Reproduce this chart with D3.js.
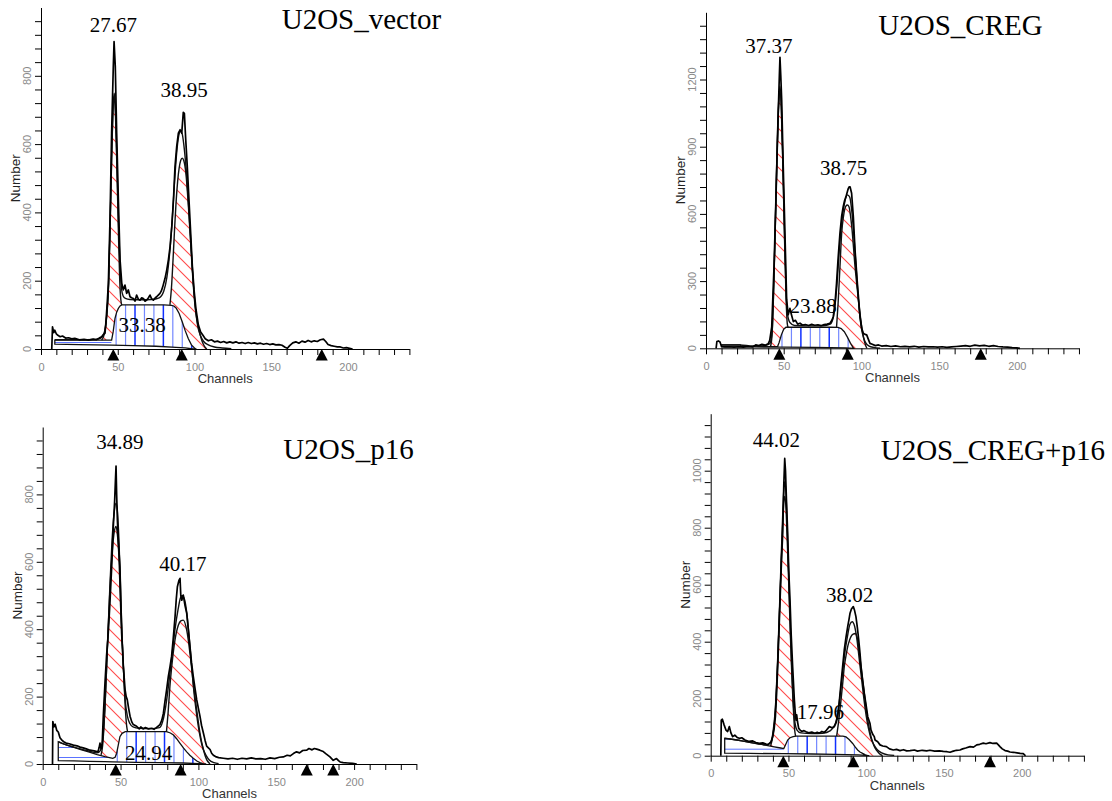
<!DOCTYPE html>
<html><head><meta charset="utf-8">
<script src="https://cdn.jsdelivr.net/npm/d3@7"></script>
<style>
html,body{margin:0;padding:0;background:#fff;}
svg{display:block;}
</style></head><body>
<svg id="chart" width="1112" height="801"></svg>
<script>
// ---------- U2OS_vector ----------
const vectorRaw = [[7,0],[7.5,65],[8.3,48],[9,55],[10,44],[11,40],[12.5,36],[14,38],[16,32],[18,33],[20,30],[22,31],[25,27],[28,28],[31,26],[34,29],[36,27],[38,32],[39.5,36],[40.5,42],[41.7,46],[42.4,85],[43.2,140],[43.9,193],[45,388],[46,632],[47.1,827],[47.6,900],[48.4,827],[49.3,632],[50.4,437],[51.5,261],[52.6,193],[53.6,173],[54.7,187],[55.8,163],[56.9,173],[58,153],[59,150],[60.2,148],[61.2,140],[62.3,158],[63.4,146],[64.5,143],[65.6,150],[66.7,148],[67.8,140],[68.8,143],[70,150],[71,158],[72.1,147],[73.2,143],[74.3,149],[75.3,153],[76.4,158],[77.5,163],[78.4,170],[79.3,182],[80.8,207],[81.9,231],[83,261],[84.1,300],[85.2,359],[86.3,437],[87.3,534],[88.4,593],[89.5,632],[90.6,642],[91.7,632],[92.7,693],[93.4,690],[94.3,612],[95.3,534],[96.4,437],[97.5,340],[98.6,242],[99.7,173],[101,115],[102.5,71],[104,50],[105.5,40],[107,30],[109,24],[111,27],[113,21],[115,23],[117,19],[119,22],[121,18],[123,21],[125,18],[127,21],[129,17],[131,19],[133,16],[135,19],[137,16],[139,18],[141,15],[143,17],[145,14],[147,16],[149,13],[151,15],[153,12],[155,13],[157,11],[159,5],[160.5,2],[162,10],[164,18],[166,21],[168,17],[170,23],[172,20],[174,25],[176,21],[178,24],[180,22],[182,27],[184,29],[185.5,22],[187,13],[189,10],[191,8],[193,6],[195,6],[197,3],[199,4],[201,2],[203,0]];
const vectorFit = [[9,27],[15,27],[25,27],[35,28],[39,32],[41,45],[42.5,85],[44,190],[45,360],[46,560],[47,710],[47.7,749],[48.5,700],[49.5,540],[50.5,370],[51.5,240],[52.5,175],[53.5,155],[55,148],[58,145],[65,144],[72,145],[77,150],[80,170],[82,210],[84,290],[85.5,380],[87,490],[88.5,580],[90,630],[91,638],[92,630],[93,600],[94.5,530],[96,430],[97.5,320],[99,210],[100.5,125],[102,70],[104,38],[106,22],[109,12],[113,6],[118,3],[124,1]];
const vectorG1 = [[39.5,26],[41,40],[42.5,80],[44,185],[45,350],[46,550],[47,705],[47.7,740],[48.5,690],[49.5,520],[50.5,330],[51.3,200],[52,145],[52.6,129]];
const vectorG2 = [[84,129],[85,180],[86,260],[87,350],[88,430],[89,490],[90,530],[91,552],[92,559],[93,552],[94.5,510],[96,420],[97.5,310],[99,200],[100.5,120],[102,75],[103.5,45],[105,22],[106.5,8],[108,0]];
const vectorBg = [[9,26],[30,26],[46,26],[47,50],[48.2,90],[49.3,108],[50.4,119],[51.5,126],[52.6,129],[60,129],[70,129],[80,129],[85,128],[86.5,126],[88,120],[90,104],[92,80],[94,53],[96,30],[98,12],[100,3],[101,0]];
const vectorLow = [[9,14],[25,13],[46,11.5],[60,10],[75,8],[88,5],[94,3],[99,0]];
const vectorMarks = [47.1, 91.7, 182.9];
const vectorPct = ["27.67", "33.38", "38.95"];   // G1, S, G2

// ---------- U2OS_CREG ----------
const cregRaw = [[6.5,0],[7,30],[8,33],[9,28],[10,8],[12,6],[15,7],[18,5],[21,7],[24,5],[27,8],[30,6],[32,15],[34,12],[36,18],[38,14],[40,20],[41,35],[42.3,96],[43.8,368],[45,666],[46.1,963],[47.2,1216],[47.6,1299],[48.1,1220],[48.7,1109],[49.7,811],[50.8,513],[51.9,216],[52.9,150],[54,178],[55,150],[56.2,119],[57.5,125],[59,108],[60.5,112],[62,104],[64,106],[66,102],[68,107],[70,103],[72,105],[74,101],[76,106],[78,108],[79.8,112],[81,125],[81.9,141],[83,200],[84,290],[85,400],[86.2,513],[87.3,590],[88.3,632],[89.2,660],[90.1,677],[91,700],[91.6,714],[92.2,721],[92.7,721],[93.7,692],[94.8,588],[95.9,439],[97.4,290],[99.1,141],[100.2,90],[101.2,67],[102.3,62],[103.4,60],[104.5,40],[105.5,22],[107,18],[109,12],[111,15],[113,10],[116,12],[119,8],[122,11],[125,7],[128,9],[131,6],[134,9],[137,5],[140,8],[143,6],[146,7],[149,5],[152,7],[155,4],[158,6],[161,8],[164,10],[167,12],[170,9],[173,14],[176,11],[179,13],[182,9],[185,12],[188,8],[191,6],[194,5],[197,3],[200,2],[202,0]];
const cregFit = [[10,15],[22,15],[30,10],[38,12],[41,20],[42.5,70],[43.5,260],[44.5,530],[45.5,820],[46.5,1060],[47.5,1170],[48.5,1080],[49.5,820],[50.5,520],[51.5,260],[52.5,150],[54,115],[57,102],[65,100],[75,101],[80,108],[82,140],[84,260],[86,460],[88,600],[89.5,660],[91,685],[92.5,675],[94,600],[95.5,470],[97,320],[98.5,180],[100,90],[101.5,45],[103,22],[105,10],[108,4],[112,1]];
const cregG1 = [[41.5,7],[42.5,60],[43.5,250],[44.5,520],[45.5,800],[46.5,1040],[47.5,1150],[48.5,1060],[49.5,800],[50.5,500],[51.5,230],[52.3,110],[52.8,94]];
const cregG2 = [[84,94],[85,200],[86.2,364],[87.3,513],[88.5,590],[90,635],[91,640],[92,632],[93.8,543],[95.9,364],[98.1,216],[100.2,97],[102.3,22],[103.5,0]];
const cregBg = [[10,15],[22,15],[23,7],[46,7],[47,25],[48.5,60],[50,85],[51.5,94],[60,94],[70,94],[80,94],[85,93],[87,88],[89,74],[91,50],[93,22],[94.5,5],[95,0]];
const cregLow = [[10,7],[30,6],[46,5],[50,5],[70,4],[90,2],[95,0]];
const cregMarks = [47.2, 91.2, 176.8];
const cregPct = ["37.37", "23.88", "38.75"];

// ---------- U2OS_p16 ----------
const p16Raw = [[6.3,0],[6.5,126],[7.2,110],[8,118],[9,100],[10,95],[11.1,78],[12.5,70],[13.5,66],[15,62],[17,60],[19.7,56],[22,54],[24,50],[26,48],[28,45],[30.4,41],[33,39],[35.5,36],[36.2,48],[36.8,62],[37.5,45],[38.2,60],[38.9,140],[40,240],[41,320],[42.1,388],[43.2,480],[44.3,585],[45.3,700],[46.2,780],[46.7,840],[47.1,884],[47.5,800],[48,720],[48.6,660],[49.6,585],[50.7,388],[51.8,290],[52.9,221],[53.6,200],[54.3,191],[55.2,165],[56.1,142],[57.2,125],[58.2,117],[60.3,112],[62,104],[63,110],[64.5,104],[66,108],[68,104],[70,106],[71.5,103],[73,108],[75.3,117],[76.5,130],[77.5,150],[78.5,185],[79.6,221],[80.7,260],[81.8,290],[82.8,320],[83.8,370],[85,437],[85.8,490],[86.5,526],[87.5,545],[88.2,551],[88.7,500],[89.3,486],[90.3,501],[91.4,470],[92.5,447],[93.5,400],[94.6,348],[95.6,300],[96.7,260],[97.8,225],[98.9,191],[100,165],[101,142],[102,115],[103.2,92],[104.3,70],[105.3,53],[106.4,48],[107.5,43],[108.5,32],[109.6,26],[111,22],[113,19],[116,17],[119,15],[122,17],[125,14],[128,17],[131,15],[134,18],[137,15],[140,16],[143,14],[146,18],[149,16],[152,20],[154.5,21],[157,26],[159,24],[161,31],[163,36],[165,33],[167,40],[169.6,41],[171,46],[173,42],[174.5,46],[176,44],[178,41],[180.2,37],[182,30],[184.5,21],[186.6,11],[188.7,16],[190,10],[191,6],[193,4],[196,3],[199,2],[201.7,0]];
const p16Fit = [[10,66],[12,62],[20,50],[30,38],[35,33],[37,40],[38.5,70],[40,170],[41.5,340],[43,510],[44.5,660],[46,750],[47.1,774],[48,750],[49,660],[50,520],[51,380],[52,270],[53,190],[54.5,140],[56,120],[58,110],[62,106],[70,105],[75,108],[77,125],[79,170],[81,240],[83,320],[85,400],[87,460],[88.5,493],[89.5,500],[91,490],[92.5,450],[94,380],[95.5,300],[97,220],[98.5,160],[100,110],[101.5,72],[103,45],[105,25],[107,12],[110,4],[113,1]];
const p16G1 = [[37.5,27],[38.5,55],[40,170],[41.5,340],[43,500],[44.5,620],[46,690],[47.1,705],[48,680],[49,610],[50,470],[51,370],[52,270],[53,170],[54,110],[54.5,96]];
const p16G2 = [[79.5,96],[80.5,150],[81.7,230],[82.9,290],[85,369],[87.1,412],[88.7,425],[90.3,427],[92.5,397],[94.6,328],[96.7,240],[98.9,161],[101,92],[103.2,43],[105.3,13],[107.5,0]];
const p16Bg = [[10,66],[15,57],[20,49],[25,42],[30,35],[35,28],[40,22],[45,17],[46.5,20],[47.5,32],[48.5,55],[49.6,81],[51,91],[53,96],[60,96],[70,96],[79.5,96],[82,92],[84,86],[86,75],[88.2,61],[90.5,47],[92.5,36],[94.5,26],[96.7,17],[99,9],[101,4],[103,1],[105,0]];
const p16Low = [[10,10],[20,9],[30,8],[40,7],[45,6.5],[60,5],[75,4],[90,3],[100,1],[105,0]];
const p16Marks = [46.9, 88.6, 169.6, 186.6];
const p16Pct = ["34.89", "24.94", "40.17"];

// ---------- U2OS_CREG+p16 ----------
const cpRaw = [[6.5,0],[6.8,125],[7.5,128],[8.5,110],[9.8,90],[10.9,85],[12,102],[13,80],[14.1,67],[15.5,72],[17,64],[18.4,61],[20,63],[22,55],[24.8,50],[27,52],[29,46],[31.3,43],[33.5,45],[35.6,41],[37,40],[37.7,43],[38.8,49],[39.9,67],[40.8,95],[41.6,137],[42.4,220],[43.1,312],[43.8,420],[44.6,546],[45.5,680],[46.3,780],[47,950],[47.6,1043],[48.1,1000],[48.7,900],[49.5,780],[50.2,650],[51,546],[51.8,420],[52.7,312],[53.8,195],[54.4,150],[54.9,125],[55.3,143],[55.8,120],[56.6,96],[57.5,90],[58.5,85],[60,88],[61.3,84],[63,80],[65,83],[67,79],[68.5,82],[69.8,79],[71.5,85],[73,82],[74.5,90],[76.3,102],[78,98],[79.5,102],[80.6,115],[81.7,137],[82.7,190],[83.8,254],[84.8,310],[85.9,371],[87,415],[88.1,453],[89,480],[89.6,500],[90.5,515],[91.7,523],[92.5,510],[93.4,488],[94.3,450],[95.2,406],[96,360],[96.7,312],[97.7,265],[98.8,218],[100,175],[101,137],[102.4,114],[103.1,90],[104.2,75],[105.2,67],[105.7,55],[107.4,49],[108.9,38],[110.6,34],[113,32],[115,24],[117.4,20],[119.5,22],[121.7,18],[124,21],[126,17],[128.2,18],[131,20],[133,16],[136,19],[138.9,17],[141,19],[144,16],[147,17],[149.6,15],[152,14],[153.9,12],[156,16],[158,19],[160.3,20],[162,24],[164,27],[166.8,32],[169,30],[171.1,38],[173,40],[175.3,44],[177,42],[179.6,46],[181.5,43],[183.9,44],[185,38],[186,32],[187.5,24],[189.3,18],[191,16],[192.5,13],[194.6,12],[197,10],[199,8],[201,7],[202,2],[202.5,0]];
const cpFit = [[9,61],[20,52],[30,42],[36,38],[38.5,45],[40,80],[41.5,160],[43,330],[44.5,560],[46,800],[47,930],[47.6,961],[48.3,930],[49.2,800],[50.2,630],[51.2,450],[52.2,300],[53.2,180],[54.2,115],[55.5,90],[58,80],[65,78],[72,79],[77,88],[80,110],[82,160],[84,250],[86,350],[88,420],[89.5,460],[91,470],[92.5,455],[94,410],[95.5,340],[97,270],[98.5,200],[100,140],[101.5,95],[103,62],[105,38],[107,22],[110,10],[114,3],[118,1]];
const cpG1 = [[38.5,34],[40,70],[41.5,150],[43,320],[44.5,540],[46,770],[47,890],[47.6,910],[48.3,880],[49.2,760],[50.2,600],[51.2,430],[52.2,280],[53.2,160],[54,90],[54.6,69]];
const cpG2 = [[81,69],[82.5,130],[83.8,195],[85,260],[85.9,312],[87,350],[88.1,383],[89.2,404],[90.2,418],[91.6,427],[93,429],[94.5,406],[95.6,360],[96.7,312],[97.7,265],[98.8,218],[99.9,170],[101,125],[102,95],[103.1,67],[104.2,47],[105.2,32],[106.8,18],[108.4,8],[110.5,0]];
const cpBg = [[9,61],[12,59],[16,56],[20,52],[25,47],[30,42],[35,37],[40,32],[45,27],[47,25],[48,37],[49.5,55],[51,63],[53,67],[55,69],[65,69],[75,69],[85,69],[87,66],[89,57],[91.3,43],[93,30],[94.5,20],[96,13],[97.7,8],[99.5,3],[101,0]];
const cpLow = [[9,9],[25,8],[47,7],[65,6],[80,5],[95,3],[102,0]];
const cpMarks = [46.7, 91.7, 179.6];
const cpPct = ["44.02", "17.96", "38.02"];

// ---------- panel layout ----------
const panels = [
  {key:"vector", title:"U2OS_vector", raw:vectorRaw, fit:vectorFit, g1:vectorG1, g2:vectorG2, bg:vectorBg, low:vectorLow, marks:vectorMarks, pct:vectorPct,
   ox:41, oy:349, kx:1.535, ky:0.3415, ymax:1000, ystep:40, ylab:200, sFrom:46,
   titleX:281.7, titleY:29.3, pctAt:[[47.1,928],[65.8,51],[93.3,737]]},
  {key:"creg", title:"U2OS_CREG", raw:cregRaw, fit:cregFit, g1:cregG1, g2:cregG2, bg:cregBg, low:cregLow, marks:cregMarks, pct:cregPct,
   ox:706, oy:348.3, kx:1.554, ky:0.224, ymax:1500, ystep:60, ylab:300, sFrom:46,
   titleX:878.3, titleY:35, pctAt:[[40.4,1320],[68.9,156],[88.6,774]]},
  {key:"p16", title:"U2OS_p16", raw:p16Raw, fit:p16Fit, g1:p16G1, g2:p16G2, bg:p16Bg, low:p16Low, marks:p16Marks, pct:p16Pct,
   ox:42.7, oy:764, kx:1.557, ky:0.337, ymax:1000, ystep:40, ylab:200, sFrom:45,
   titleX:283.3, titleY:459.3, pctAt:[[49.5,934],[68.1,12],[90.1,574]]},
  {key:"cp", title:"U2OS_CREG+p16", raw:cpRaw, fit:cpFit, g1:cpG1, g2:cpG2, bg:cpBg, low:cpLow, marks:cpMarks, pct:cpPct,
   ox:710.7, oy:755.7, kx:1.555, ky:0.285, ymax:1200, ystep:40, ylab:200, sFrom:47,
   titleX:880.7, titleY:460, pctAt:[[42.2,1084],[70.5,128],[89.4,540]]}
];

const svg = d3.select("#chart");
const defs = svg.append("defs");
const SERIF = "'Liberation Serif','Times New Roman',serif";
const SANS = "'Liberation Sans',Arial,sans-serif";

// red diagonal hatch used for the G1 / G2 peaks
const hatch = defs.append("pattern").attr("id", "redHatch")
  .attr("patternUnits", "userSpaceOnUse").attr("width", 13).attr("height", 13);
hatch.append("path")
  .attr("d", "M-1,-1L14,14M-1,12L1,14M12,-1L14,1")
  .attr("stroke", "#ff4a4a").attr("stroke-width", 1.1).attr("fill", "none");

panels.forEach(p => {
  const g = svg.append("g").attr("class", "panel-" + p.key);
  const x = d3.scaleLinear().domain([0, 240]).range([p.ox, p.ox + 240 * p.kx]);
  const y = d3.scaleLinear().domain([0, p.ymax]).range([p.oy, p.oy - p.ymax * p.ky]);
  const lin = d3.line().x(d => x(d[0])).y(d => y(d[1]));
  const smooth = d3.line().x(d => x(d[0])).y(d => y(d[1])).curve(d3.curveMonotoneX);

  function clip(pts, id) {
    defs.append("clipPath").attr("id", id).append("path").attr("d", lin(pts) + "Z");
    return "url(#" + id + ")";
  }
  function bbox(pts) {
    const xs = pts.map(d => x(d[0])), ys = pts.map(d => y(d[1]));
    return [d3.min(xs), d3.max(xs), d3.min(ys), d3.max(ys)];
  }

  // debris region (horizontal blue hatch)
  const debrisPoly = p.bg.filter(d => d[0] <= p.sFrom)
    .concat(p.low.filter(d => d[0] <= p.sFrom).slice().reverse());
  {
    const [x0, x1, y0] = bbox(debrisPoly);
    const rows = d3.range(p.oy - 6.5, y0 - 1, -10);
    g.append("g").attr("clip-path", clip(debrisPoly, "deb-" + p.key))
      .selectAll("line").data(rows).join("line")
      .attr("x1", x0).attr("x2", x1).attr("y1", d => d).attr("y2", d => d)
      .attr("stroke", "#5a72ff").attr("stroke-width", 1);
  }

  // S-phase region (vertical blue hatch)
  const sPoly = p.bg.filter(d => d[0] >= p.sFrom)
    .concat(p.low.filter(d => d[0] >= p.sFrom).slice().reverse());
  {
    const [, x1] = bbox(sPoly);
    const cols = d3.range(x(p.sFrom) + 4.5, x1, 9.45);
    g.append("g").attr("clip-path", clip(sPoly, "sph-" + p.key))
      .selectAll("line").data(cols).join("line")
      .attr("x1", d => d).attr("x2", d => d).attr("y1", p.oy).attr("y2", y(p.ymax * 0.3))
      .attr("stroke", (d, i) => i % 3 === 2 ? "#1030ff" : "#7388ff")
      .attr("stroke-width", (d, i) => i % 3 === 2 ? 1.5 : 1.2);
  }

  // G1 / G2 peaks (red diagonal hatch), sitting on the background
  [p.g1, p.g2].forEach(pk => {
    const a = pk[0][0], b = pk[pk.length - 1][0];
    const base = p.bg.filter(d => d[0] > a && d[0] < b).slice().reverse();
    g.append("path").attr("d", lin(pk.concat(base)) + "Z")
      .attr("fill", "url(#redHatch)").attr("stroke", "none");
  });

  // background outline (debris + S phase)
  g.append("path")
    .attr("d", lin(p.bg.concat(p.low.slice().reverse())) + "Z")
    .attr("fill", "none").attr("stroke", "#111").attr("stroke-width", 1.3);

  // peak outlines
  [p.g1, p.g2].forEach(pk => {
    g.append("path").attr("d", smooth(pk)).attr("fill", "none")
      .attr("stroke", "#111").attr("stroke-width", 1.4);
  });

  // fitted model
  g.append("path").attr("d", smooth(p.fit)).attr("fill", "none")
    .attr("stroke", "#111").attr("stroke-width", 1.4);

  // measured histogram
  g.append("path").attr("d", lin(p.raw)).attr("fill", "none")
    .attr("stroke", "#000").attr("stroke-width", 1.7).attr("stroke-linejoin", "round");

  // axes
  const xAxis = d3.axisBottom(x).tickValues(d3.range(0, 241, 10))
    .tickSize(6).tickSizeOuter(0).tickPadding(8)
    .tickFormat(d => (d % 50 === 0 && d <= 200) ? d : "");
  const gx = g.append("g").attr("transform", `translate(0,${p.oy})`).call(xAxis);
  gx.attr("font-family", SANS).attr("font-size", 11);
  gx.selectAll("text").attr("fill", "#8a8a8a");
  gx.selectAll("line,path").attr("stroke", "#000");

  const yAxis = d3.axisLeft(y).tickValues(d3.range(0, p.ymax, p.ystep))
    .tickSize(6).tickSizeOuter(0).tickFormat("");
  const gy = g.append("g").attr("transform", `translate(${p.ox},0)`).call(yAxis);
  gy.selectAll("line,path").attr("stroke", "#000");

  g.append("g").selectAll("text").data(d3.range(0, p.ymax, p.ylab)).join("text")
    .attr("transform", d => `translate(${p.ox - 10},${y(d)}) rotate(-90)`)
    .attr("text-anchor", "middle")
    .attr("font-family", SANS).attr("font-size", 11).attr("fill", "#8a8a8a")
    .text(d => d);

  // peak markers
  g.append("g").selectAll("path").data(p.marks).join("path")
    .attr("d", c => `M${x(c)},${p.oy}L${x(c) - 6},${p.oy + 11.5}L${x(c) + 6},${p.oy + 11.5}Z`)
    .attr("fill", "#000");

  // axis titles
  g.append("text")
    .attr("transform", `translate(${p.ox - 21},${(y(0) + y(p.ymax)) / 2}) rotate(-90)`)
    .attr("text-anchor", "middle").attr("font-family", SANS).attr("font-size", 13.5)
    .attr("fill", "#222").text("Number");
  g.append("text")
    .attr("x", x(120)).attr("y", p.oy + 34)
    .attr("text-anchor", "middle").attr("font-family", SANS).attr("font-size", 13)
    .attr("fill", "#333").text("Channels");

  // phase percentages
  g.append("g").selectAll("text").data(p.pct).join("text")
    .attr("x", (d, i) => x(p.pctAt[i][0])).attr("y", (d, i) => y(p.pctAt[i][1]))
    .attr("text-anchor", "middle").attr("font-family", SERIF).attr("font-size", 21)
    .attr("fill", "#000").text(d => d);

  // sample name
  g.append("text").attr("x", p.titleX).attr("y", p.titleY)
    .attr("font-family", SERIF).attr("font-size", 29).attr("fill", "#000")
    .text(p.title);
});
</script></body></html>
